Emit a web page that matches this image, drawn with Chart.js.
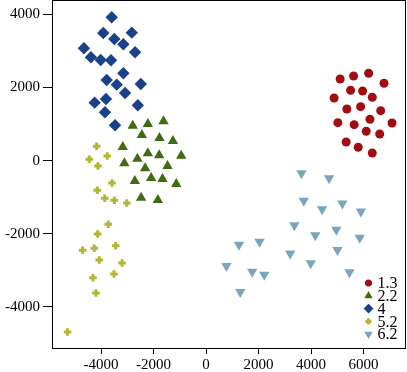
<!DOCTYPE html>
<html>
<head>
<meta charset="utf-8">
<script src="https://cdn.jsdelivr.net/npm/chart.js@4/dist/chart.umd.min.js"></script>
<style>
  html, body { margin: 0; padding: 0; background: #fff; }
  #wrap { width: 407px; height: 372px; }
</style>
</head>
<body>
<div id="wrap"><canvas id="scatter" width="407" height="372"></canvas></div>
<script>
// Cluster scatter - five groups

const groupNames = ['1.3', '2.2', '4', '5.2', '6.2'];

const xTicks = [-4000, -2000, 0, 2000, 4000, 6000];
const yTicks = [-4000, -2000, 0, 2000, 4000];

// group 1.3 (red circles)
const g13x = [5109, 5621, 6195, 6780, 5507, 5965, 4879, 6333, 5365, 5889, 6654, 5021, 5644, 6245, 7086, 6103, 6616, 5338, 5797, 6333];
const g13y = [2235, 2317, 2391, 2118, 1926, 1907, 1715, 1735, 1415, 1477, 1368, 1040, 985, 1133, 1031, 804, 731, 512, 367, 211];

// group 2.2 (green triangles)
const g22x = [-2792, -2218, -1621, -2447, -1774, -1262, -3174, -2218, -1786, -945, -2616, -3113, -2321, -1468, -2092, -1660, -2715, -1136, -2474, -1836];
const g22y = [958, 1004, 1078, 703, 621, 539, 375, 202, 148, 137, 55, -71, -208, -145, -473, -501, -555, -637, -1012, -1075];

// group 4 (blue diamonds)
const g4x = [-3595, -3916, -2830, -3495, -3151, -4654, -2704, -4386, -4015, -3621, -3151, -3786, -3403, -2486, -3086, -4245, -3813, -2600, -3851, -3468];
const g4y = [3923, 3494, 3502, 3330, 3185, 3075, 2966, 2829, 2755, 2747, 2391, 2208, 2079, 2098, 1852, 1587, 1688, 1516, 1324, 969];

// group 5.2 (yellow crosses)
const g52x = [-4168, -4451, -3763, -4118, -3583, -4145, -3862, -3495, -3021, -3725, -4130, -4704, -4260, -3442, -4069, -3201, -4310, -3507, -4195, -5277];
const g52y = [394, 38, 129, -145, -610, -810, -1029, -1083, -1157, -1740, -2005, -2451, -2397, -2326, -2717, -2799, -3201, -3100, -3620, -4687];

// group 6.2 (light blue down triangles)
const g62x = [3633, 4688, 3721, 4421, 5193, 5900, 3365, 4161, 4964, 5855, 3205, 5009, 3988, 5461, 1254, 2038, 776, 1759, 2218, 1304];
const g62y = [-345, -482, -1094, -1330, -1171, -1390, -1765, -2038, -1888, -2109, -2539, -2443, -2807, -3051, -2301, -2216, -2881, -3040, -3122, -3592];

function pts(xs, ys) {
    return xs.map((x, i) => ({ x: x, y: ys[i] }));
}

const styles = [
    { color: '#A10D12', pointStyle: 'circle', radius: 4.5, rotation: 0, borderWidth: 0 },
    { color: '#416B12', pointStyle: 'triangle', radius: 6, rotation: 0, borderWidth: 0 },
    { color: '#1B418A', pointStyle: 'rectRot', radius: 6.2, rotation: 0, borderWidth: 0 },
    { color: '#B2B833', pointStyle: 'cross', radius: 3.8, rotation: 0, borderWidth: 3 },
    { color: '#7AA5BE', pointStyle: 'triangle', radius: 6, rotation: 180, borderWidth: 0 }
];

const seriesData = [pts(g13x, g13y), pts(g22x, g22y), pts(g4x, g4y), pts(g52x, g52y), pts(g62x, g62y)];

const datasets = groupNames.map((name, i) => ({
    label: name,
    data: seriesData[i],
    pointStyle: styles[i].pointStyle,
    pointRadius: styles[i].radius,
    pointRotation: styles[i].rotation,
    pointBackgroundColor: styles[i].color,
    pointBorderColor: styles[i].color,
    pointBorderWidth: styles[i].borderWidth
}));

const FONT = { family: "'Liberation Serif', 'Times New Roman', serif", size: 15 };

// frame around the plot and the legend in the lower right corner
const framePlugin = {
    id: 'frameAndLegend',
    afterDraw(chart) {
        const ctx = chart.ctx;
        const a = chart.chartArea;
        ctx.save();
        ctx.strokeStyle = '#000';
        ctx.lineWidth = 1;
        ctx.strokeRect(Math.round(a.left) + 0.5, Math.round(a.top) + 0.5,
            Math.round(a.right - a.left), Math.round(a.bottom - a.top));

        const mx = 368.5;
        let my = 283;
        ctx.font = '16px ' + FONT.family;
        ctx.textBaseline = 'middle';
        ctx.textAlign = 'left';
        groupNames.forEach((name, i) => {
            const s = styles[i];
            ctx.fillStyle = s.color;
            ctx.strokeStyle = s.color;
            ctx.lineWidth = s.borderWidth || 1;
            Chart.helpers.drawPoint(ctx, {
                pointStyle: s.pointStyle,
                radius: s.radius * 0.8,
                rotation: s.rotation,
                borderWidth: s.borderWidth
            }, mx, my);
            ctx.fillStyle = '#000';
            ctx.fillText(name, mx + 9, my + 1);
            my += 12.8;
        });
        ctx.restore();
    }
};

new Chart(document.getElementById('scatter'), {
    type: 'scatter',
    data: { datasets: datasets },
    options: {
        responsive: false,
        animation: false,
        layout: { autoPadding: false, padding: { top: 0, right: 2, left: 0, bottom: 0 } },
        plugins: {
            legend: { display: false },
            tooltip: { enabled: false }
        },
        scales: {
            x: {
                min: -5870,
                max: 7580,
                afterBuildTicks: s => { s.ticks = xTicks.map(v => ({ value: v })); },
                afterFit: s => { s.height = 24; s.paddingLeft = 0; s.paddingRight = 0; },
                border: { display: true, color: '#000', width: 1 },
                grid: { drawOnChartArea: false, drawTicks: true, tickLength: 6, color: '#000' },
                ticks: {
                    color: '#000',
                    font: FONT,
                    padding: 2,
                    maxRotation: 0,
                    callback: v => String(v)
                }
            },
            y: {
                min: -5124,
                max: 4395,
                afterBuildTicks: s => { s.ticks = yTicks.map(v => ({ value: v })); },
                afterFit: s => { s.width = 52; s.paddingTop = 0; s.paddingBottom = 0; },
                border: { display: true, color: '#000', width: 1 },
                grid: { drawOnChartArea: false, drawTicks: true, tickLength: 9, color: '#000' },
                ticks: {
                    color: '#000',
                    font: FONT,
                    padding: 3,
                    callback: v => String(v)
                }
            }
        }
    },
    plugins: [framePlugin]
});
</script>
</body>
</html>
